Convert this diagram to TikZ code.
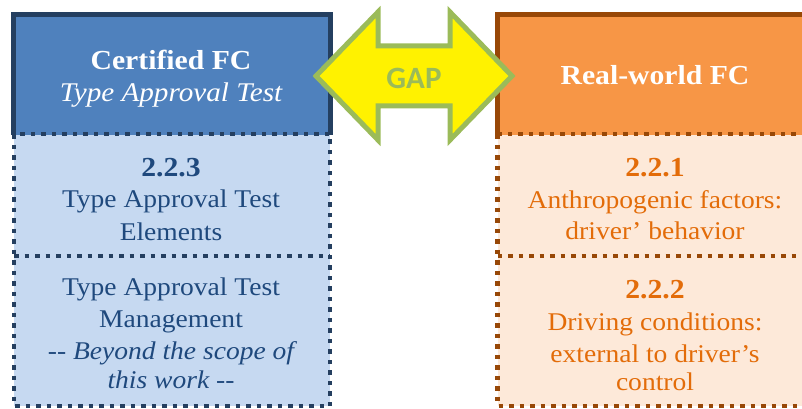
\documentclass[tikz,border=0pt]{standalone}
\usepackage{fontspec}
\setmainfont{Liberation Serif}[FakeStretch=1.08]
\newfontfamily\gapfont{Carlito}
\definecolor{bluefill}{HTML}{4F81BD}
\definecolor{blueedge}{HTML}{243F60}
\definecolor{bluelight}{HTML}{C6D9F1}
\definecolor{bluetext}{HTML}{1F497D}
\definecolor{orfill}{HTML}{F79646}
\definecolor{oredge}{HTML}{984807}
\definecolor{orlight}{HTML}{FDE9D9}
\definecolor{ortext}{HTML}{E36C09}
\definecolor{gapgreen}{HTML}{9BBB59}
\tikzset{
  box/.style={inner sep=0pt, outer sep=0pt, anchor=north west},
  solidedge/.style={line width=5pt, line join=miter},
  dotedge/.style={line width=4.5pt, dash pattern=on 4.5pt off 6pt},
  body/.style={anchor=base, inner sep=0pt, font=\fontsize{25.5}{30}\selectfont},
  bodyit/.style={anchor=base, inner sep=0pt, font=\fontsize{25.5}{30}\selectfont\itshape},
  head/.style={anchor=base, inner sep=0pt, font=\fontsize{27.5}{32}\selectfont\bfseries},
}
\begin{document}
\begin{tikzpicture}[x=1pt,y=-1pt]
\useasboundingbox (0,0) rectangle (802,409);
\clip (0,0) rectangle (802,409);
% lower boxes
\node[box, fill=bluelight, minimum width=316pt, minimum height=122pt] (lm) at (14,134) {};
\node[box, fill=bluelight, minimum width=316pt, minimum height=150pt] (lb) at (14,256) {};
\node[box, fill=orlight, minimum width=318pt, minimum height=122pt] (rm) at (497.5,134) {};
\node[box, fill=orlight, minimum width=318pt, minimum height=150pt] (rb) at (497.5,256) {};
% top boxes
\node[box, fill=bluefill, minimum width=317pt, minimum height=120pt] (lt) at (13,14.5) {};
\node[box, fill=orfill, minimum width=318pt, minimum height=120pt] (rt) at (497.5,14.5) {};
\draw[solidedge, blueedge] (lt.south west) -- (lt.north west) -- (lt.north east) -- (lt.south east);
\draw[solidedge, oredge] (rt.south west) -- (rt.north west) -- (rt.north east) -- (rt.south east);
% dotted edges
\draw[dotedge, blueedge] (lm.north west) rectangle (lb.south east);
\draw[dotedge, blueedge] (lm.south west) -- (lm.south east);
\draw[dotedge, oredge] (rm.north west) rectangle (rb.south east);
\draw[dotedge, oredge] (rm.south west) -- (rm.south east);
% arrow
\draw[line width=5pt, gapgreen, fill=yellow, line join=miter]
  (316,76) -- (378,12) -- (378,46) -- (450,46) -- (450,12) -- (512,76)
  -- (450,140) -- (450,106) -- (378,106) -- (378,140) -- cycle;
\node[inner sep=0pt, text=gapgreen, font=\gapfont\bfseries\fontsize{31}{31}\selectfont] (gap) at (414,78) {GAP};
% texts left
\node[head, text=white] (lt1) at (171,70) {Certified FC};
\node[bodyit, text=white, font=\fontsize{27}{30}\selectfont\itshape] (lt2) at (171,102) {Type Approval Test};
\node[head, text=bluetext] (lm1) at (171,176) {2.2.3};
\node[body, text=bluetext] (lm2) at (171,207) {Type Approval Test};
\node[body, text=bluetext] (lm3) at (171,240) {Elements};
\node[body, text=bluetext] (lb1) at (171,295) {Type Approval Test};
\node[body, text=bluetext] (lb2) at (171,327) {Management};
\node[bodyit, text=bluetext] (lb3) at (171,359) {-{}- Beyond the scope of};
\node[bodyit, text=bluetext] (lb4) at (171,388) {this work -{}-};
% texts right
\node[head, text=white] (rt1) at (655,85) {Real-world FC};
\node[head, text=ortext] (rm1) at (655,176) {2.2.1};
\node[body, text=ortext] (rm2) at (655,208) {Anthropogenic factors:};
\node[body, text=ortext] (rm3) at (655,239) {driver’ behavior};
\node[head, text=ortext] (rb1) at (655,298) {2.2.2};
\node[body, text=ortext] (rb2) at (655,330) {Driving conditions:};
\node[body, text=ortext] (rb3) at (655,362) {external to driver’s};
\node[body, text=ortext] (rb4) at (655,390) {control};
\end{tikzpicture}
\end{document}
